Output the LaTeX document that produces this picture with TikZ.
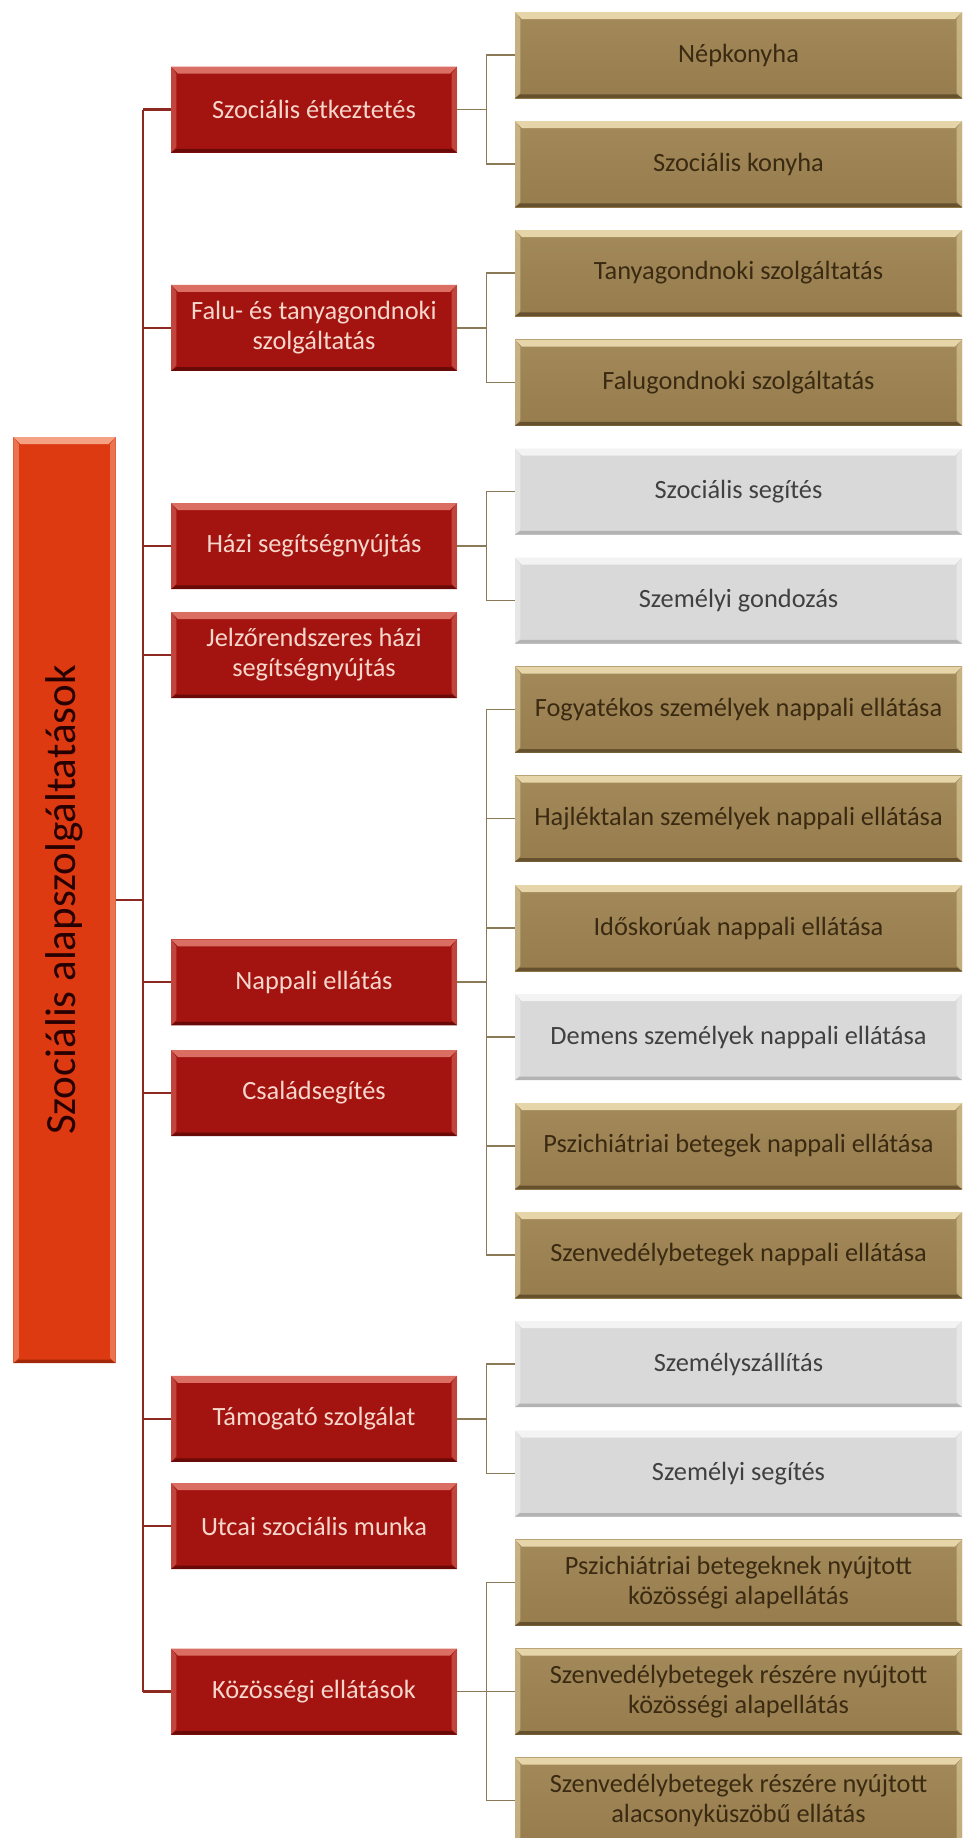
\documentclass[tikz,border=0pt]{standalone}
\usepackage{fontspec}
\setmainfont{Carlito}
\definecolor{boxred}{HTML}{A31410}
\definecolor{redhi}{HTML}{DA6E62}
\definecolor{redlo}{HTML}{6A0A08}
\definecolor{redtext}{HTML}{F7D6CC}
\definecolor{rootfill}{HTML}{DE3A12}
\definecolor{roothi}{HTML}{F4A283}
\definecolor{rootlo}{HTML}{A12808}
\definecolor{boxgold}{HTML}{977C4D}
\definecolor{goldtop}{HTML}{A38A5A}
\definecolor{goldhi}{HTML}{E6D5A8}
\definecolor{goldlo}{HTML}{66512E}
\definecolor{goldtext}{HTML}{3A2A12}
\definecolor{boxgrey}{HTML}{D9D9D9}
\definecolor{greyhi}{HTML}{F3F3F3}
\definecolor{greylo}{HTML}{B3B3B3}
\definecolor{spinecol}{HTML}{8C2A22}
\definecolor{bracketcol}{HTML}{8A7A58}
\begin{document}
\begin{tikzpicture}[every node/.style={font=\fontsize{15}{17}\selectfont,align=center,inner sep=2pt},
  bevel/.style 2 args={path picture={
    \fill[#1] (path picture bounding box.north west) -- (path picture bounding box.north east) -- ++(-4pt,-4pt) -- ([xshift=4pt,yshift=-4pt]path picture bounding box.north west) -- cycle;
    \fill[#1,opacity=.55] (path picture bounding box.north west) -- ++(3pt,-4pt) -- ([xshift=3pt,yshift=3pt]path picture bounding box.south west) -- (path picture bounding box.south west) -- cycle;
    \fill[#1,opacity=.55] (path picture bounding box.north east) -- ++(-3pt,-4pt) -- ([xshift=-3pt,yshift=3pt]path picture bounding box.south east) -- (path picture bounding box.south east) -- cycle;
    \fill[#2] (path picture bounding box.south west) -- ++(3pt,2pt) -- ([xshift=-3pt,yshift=2pt]path picture bounding box.south east) -- (path picture bounding box.south east) -- cycle;}},
  rootbox/.style={fill=rootfill,minimum width=2.04cm,minimum height=18.52cm,text=black!85!red,bevel={roothi}{rootlo}},
  redbox/.style={fill=boxred,minimum width=5.72cm,minimum height=1.72cm,text=redtext,bevel={redhi}{redlo}},
  goldbox/.style={top color=goldtop,bottom color=boxgold,minimum width=8.94cm,minimum height=1.72cm,text=goldtext,bevel={goldhi}{goldlo}},
  greybox/.style={fill=boxgrey,minimum width=8.94cm,minimum height=1.72cm,text=black!75,bevel={greyhi}{greylo}},
  redline/.style={draw=spinecol,line width=1.2pt},
  goldline/.style={draw=bracketcol,line width=0.9pt}]
\useasboundingbox[fill=white] (0,0) rectangle (19.32,-36.76);
\node[rootbox] (root) at (1.29,-18.00) {\fontsize{24.5}{28}\selectfont\rotatebox{90}{Szociális alapszolgáltatások}};
% first level
\node[redbox] (etk) at (6.28,-2.19) {Szociális étkeztetés};
\node[redbox] (falu) at (6.28,-6.555) {Falu- és tanyagondnoki\\szolgáltatás};
\node[redbox] (hazi) at (6.28,-10.92) {Házi segítségnyújtás};
\node[redbox] (jelzo) at (6.28,-13.10) {Jelzőrendszeres házi\\segítségnyújtás};
\node[redbox] (napp) at (6.28,-19.645) {Nappali ellátás};
\node[redbox] (csal) at (6.28,-21.86) {Családsegítés};
\node[redbox] (tamog) at (6.28,-28.375) {Támogató szolgálat};
\node[redbox] (utcai) at (6.28,-30.52) {Utcai szociális munka};
\node[redbox] (kozos) at (6.28,-33.83) {Közösségi ellátások};
% second level
\node[goldbox] (nepk) at (14.77,-1.10) {Népkonyha};
\node[goldbox] (szkony) at (14.77,-3.28) {Szociális konyha};
\node[goldbox] (tanya) at (14.77,-5.46) {Tanyagondnoki szolgáltatás};
\node[goldbox] (falug) at (14.77,-7.65) {Falugondnoki szolgáltatás};
\node[greybox] (szsegit) at (14.77,-9.83) {Szociális segítés};
\node[greybox] (szgond) at (14.77,-12.01) {Személyi gondozás};
\node[goldbox] (fogy) at (14.77,-14.19) {Fogyatékos személyek nappali ellátása};
\node[goldbox] (hajl) at (14.77,-16.37) {Hajléktalan személyek nappali ellátása};
\node[goldbox] (idos) at (14.77,-18.56) {Időskorúak nappali ellátása};
\node[greybox] (demens) at (14.77,-20.74) {Demens személyek nappali ellátása};
\node[goldbox] (pszinap) at (14.77,-22.92) {Pszichiátriai betegek nappali ellátása};
\node[goldbox] (szenvnap) at (14.77,-25.10) {Szenvedélybetegek nappali ellátása};
\node[greybox] (szallit) at (14.77,-27.28) {Személyszállítás};
\node[greybox] (szsegits) at (14.77,-29.47) {Személyi segítés};
\node[goldbox] (pszikoz) at (14.77,-31.65) {Pszichiátriai betegeknek nyújtott\\közösségi alapellátás};
\node[goldbox] (szenvkoz) at (14.77,-33.83) {Szenvedélybetegek részére nyújtott\\közösségi alapellátás};
\node[goldbox] (szenvalacs) at (14.77,-36.01) {Szenvedélybetegek részére nyújtott\\alacsonyküszöbű ellátás};
% spine
\coordinate (spine) at (2.86,-18.00);
\draw[redline] (root.east) -- (spine); \draw[redline] (spine |- etk.west) -- (spine |- kozos.west);
\draw[redline] (spine |- etk.west) -- (etk.west); \draw[redline] (spine |- falu.west) -- (falu.west); \draw[redline] (spine |- hazi.west) -- (hazi.west);
\draw[redline] (spine |- jelzo.west) -- (jelzo.west); \draw[redline] (spine |- napp.west) -- (napp.west); \draw[redline] (spine |- csal.west) -- (csal.west);
\draw[redline] (spine |- tamog.west) -- (tamog.west); \draw[redline] (spine |- utcai.west) -- (utcai.west); \draw[redline] (spine |- kozos.west) -- (kozos.west);
% brackets
\draw[goldline] (etk.east) -- ++(0.58,0) |- (nepk.west); \draw[goldline] (etk.east) -- ++(0.58,0) |- (szkony.west);
\draw[goldline] (falu.east) -- ++(0.58,0) |- (tanya.west); \draw[goldline] (falu.east) -- ++(0.58,0) |- (falug.west);
\draw[goldline] (hazi.east) -- ++(0.58,0) |- (szsegit.west); \draw[goldline] (hazi.east) -- ++(0.58,0) |- (szgond.west);
\draw[goldline] (napp.east) -- ++(0.58,0) |- (fogy.west); \draw[goldline] (napp.east) -- ++(0.58,0) |- (hajl.west); \draw[goldline] (napp.east) -- ++(0.58,0) |- (idos.west);
\draw[goldline] (napp.east) -- ++(0.58,0) |- (demens.west); \draw[goldline] (napp.east) -- ++(0.58,0) |- (pszinap.west); \draw[goldline] (napp.east) -- ++(0.58,0) |- (szenvnap.west);
\draw[goldline] (tamog.east) -- ++(0.58,0) |- (szallit.west); \draw[goldline] (tamog.east) -- ++(0.58,0) |- (szsegits.west);
\draw[goldline] (kozos.east) -- ++(0.58,0) |- (pszikoz.west); \draw[goldline] (kozos.east) -- ++(0.58,0) |- (szenvkoz.west); \draw[goldline] (kozos.east) -- ++(0.58,0) |- (szenvalacs.west);
\end{tikzpicture}
\end{document}
